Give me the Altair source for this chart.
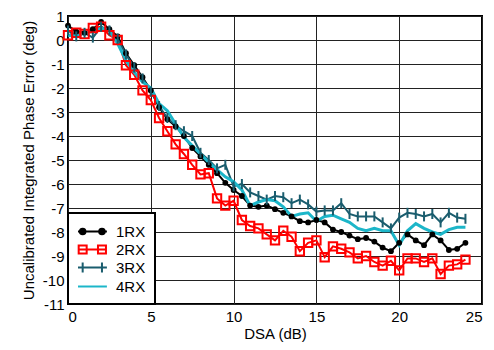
import altair as alt
import pandas as pd

names = ["1RX", "2RX", "3RX", "4RX"]
colors = ["#000000", "#ff0000", "#1a5d6e", "#1cb6c9"]

dsa = [0, 0.5, 1, 1.5, 2, 2.5, 3, 3.5, 4, 4.5, 5, 5.5, 6, 6.5, 7, 7.5, 8, 8.5,
       9, 9.5, 10, 10.5, 11, 11.5, 12, 12.5, 13, 13.5, 14, 14.5, 15, 15.5, 16,
       16.5, 17, 17.5, 18, 18.5, 19, 19.5, 20, 20.5, 21, 21.5, 22, 22.5, 23,
       23.5, 24]

rx1 = [0.6, 0.35, 0.3, 0.45, 0.75, 0.45, 0.15, -0.55, -1.05, -1.55, -2.1, -2.8,
       -3.3, -3.6, -4.0, -4.5, -4.85, -5.2, -5.55, -5.95, -6.25, -6.5, -6.9,
       -6.95, -6.9, -7.05, -7.2, -7.35, -7.55, -7.6, -7.5, -7.6, -7.9, -8.0,
       -8.15, -8.3, -8.25, -8.4, -8.65, -8.8, -8.45, -8.1, -8.35, -8.55, -8.1,
       -8.35, -8.75, -8.7, -8.45]

rx2 = [0.2, 0.3, 0.25, 0.5, 0.55, 0.2, 0.0, -1.05, -1.45, -2.1, -2.5, -3.25,
       -3.8, -4.35, -4.75, -5.2, -5.6, -5.55, -6.6, -6.9, -6.7, -7.5, -7.75,
       -7.85, -8.1, -8.35, -7.95, -8.2, -8.8, -8.45, -8.35, -9.05, -8.6, -8.7,
       -8.85, -9.1, -9.0, -9.25, -9.4, -9.2, -9.6, -9.1, -9.1, -9.25, -9.1,
       -9.75, -9.4, -9.35, -9.15]

rx3 = [0.4, 0.15, 0.3, 0.1, 0.55, 0.4, 0.05, -0.6, -1.15, -1.6, -2.15, -2.75,
       -3.25, -3.55, -3.8, -4.0, -4.7, -5.0, -5.35, -5.2, -6.1, -6.0, -6.35,
       -6.5, -6.65, -6.5, -6.55, -6.8, -6.65, -6.85, -7.15, -7.1, -7.1, -6.8,
       -7.25, -7.35, -7.35, -7.35, -7.6, -7.85, -7.4, -7.2, -7.25, -7.35,
       -7.25, -7.6, -7.2, -7.4, -7.45]

rx4 = [0.2, 0.15, 0.3, 0.35, 0.5, 0.4, -0.15, -0.85, -1.35, -1.75, -2.0, -2.65,
       -2.95, -3.5, -4.05, -4.4, -4.75, -5.1, -5.4, -5.7, -5.9, -6.25, -6.9,
       -6.75, -6.65, -6.7, -6.95, -7.35, -7.25, -7.2, -7.55, -7.35, -7.3,
       -7.45, -7.6, -7.85, -7.95, -7.85, -7.95, -7.95, -8.55, -7.95, -7.65,
       -7.85, -8.0, -8.1, -7.9, -7.8, -7.8]

y_ticks = [1, 0, -1, -2, -3, -4, -5, -6, -7, -8, -9, -10, -11]
x_ticks = [0, 5, 10, 15, 20, 25]

rows = []
for name, vals in zip(names, [rx1, rx2, rx3, rx4]):
    for xv, yv in zip(dsa, vals):
        rows.append({"series": name, "x": xv, "y": yv})
df = pd.DataFrame(rows)

FONT = "Liberation Sans"
HYPHEN = "datum.value < 0 ? '-' + abs(datum.value) : '' + datum.value"

xenc = alt.X("x:Q", scale=alt.Scale(domain=[0, 25], nice=False),
             axis=alt.Axis(values=x_ticks, title="DSA (dB)", ticks=False,
                           domain=False, labelPadding=5, titlePadding=2,
                           labelOverlap=False,
                           gridColor="#222", gridWidth=1))
yenc = alt.Y("y:Q", scale=alt.Scale(domain=[-11, 1], nice=False),
             axis=alt.Axis(values=y_ticks,
                           title="Uncalibrated Integrated Phase Error (deg)",
                           ticks=False, domain=False, labelPadding=4,
                           labelOverlap=False, labelExpr=HYPHEN,
                           titlePadding=6, gridColor="#222", gridWidth=1))

base = alt.Chart(df)

layers = []
# lines, one per series (constant colours, no legend)
for name, col, sw in zip(names, colors, [2, 2, 2, 3]):
    layers.append(
        base.transform_filter(alt.datum.series == name)
        .mark_line(color=col, strokeWidth=sw)
        .encode(x=xenc, y=yenc, order=alt.Order("x:Q"))
    )

layers.append(base.transform_filter(alt.datum.series == "1RX").mark_point(
    shape="circle", filled=True, color="#000000", size=34, opacity=1
).encode(x=xenc, y=yenc))

layers.append(base.transform_filter(alt.datum.series == "2RX").mark_point(
    shape="square", filled=False, color="#ff0000", size=70, strokeWidth=2, opacity=1
).encode(x=xenc, y=yenc))

layers.append(base.transform_filter(alt.datum.series == "3RX").mark_point(
    shape="M0,-1L0,1", filled=False, color="#1a5d6e", size=100, strokeWidth=2, opacity=1
).encode(x=xenc, y=yenc))

paths = [
    "M-1,0H2.4M-0.78,0A0.33,0.33,0,1,1,-0.12,0A0.33,0.33,0,1,1,-0.78,0ZM1.49,0A0.33,0.33,0,1,1,2.15,0A0.33,0.33,0,1,1,1.49,0Z",
    "M-1,0H2.4M-0.92,-0.47H0.02V0.47H-0.92ZM1.35,-0.47H2.29V0.47H1.35Z",
    "M-1,0H2.4M-0.45,-0.6V0.6M1.82,-0.6V0.6",
    "M-1,0H2.4",
]

leg = alt.Legend(title=None, orient="bottom-left", offset=0, padding=9,
                 rowPadding=0, symbolSize=289, labelOffset=20,
                 labelFont=FONT, labelFontSize=15, labelColor="#000",
                 strokeColor="#000", fillColor="#ffffff", symbolStrokeWidth=2)

# legend-only layer: its marks are pushed outside the y domain and clipped away
legend_layer = base.transform_filter(alt.datum.x == 0).transform_calculate(
    y="datum.y + 100"
).mark_point(opacity=1, clip=True).encode(
    x=xenc, y=yenc,
    stroke=alt.Stroke("series:N", scale=alt.Scale(domain=names, range=colors), legend=leg),
    fill=alt.Fill("series:N", scale=alt.Scale(domain=names, range=["#000000", "transparent", "transparent", "transparent"]), legend=leg),
    shape=alt.Shape("series:N", scale=alt.Scale(domain=names, range=paths), legend=leg),
)
layers.append(legend_layer)

chart = alt.layer(*layers).properties(
    width=414, height=288,
    autosize=alt.AutoSizeParams(type="none"),
    padding={"left": 60, "top": 8, "right": 4, "bottom": 38},
).configure_view(
    stroke="#000", strokeWidth=2
).configure_axis(
    labelFont=FONT, titleFont=FONT, labelFontSize=15, titleFontSize=15,
    labelColor="#000", titleColor="#000", titleFontWeight="normal",
).configure_legend(
    strokeWidth=2
)

chart.save("out.html", embed_options={"renderer": "svg", "actions": False})
